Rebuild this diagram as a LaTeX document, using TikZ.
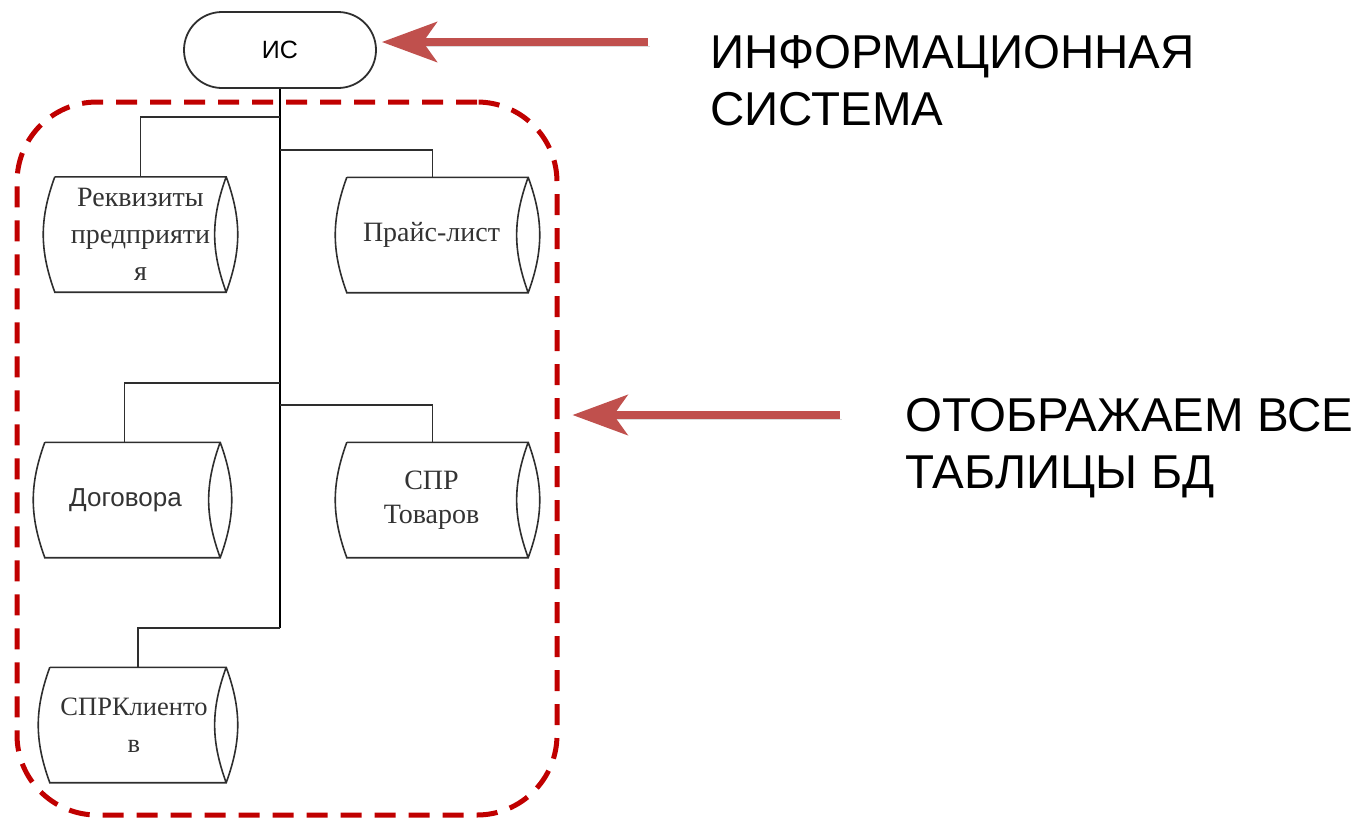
\documentclass[tikz,border=0pt]{standalone}
\usepackage{fontspec}
\setmainfont{Liberation Serif}
\newfontfamily\sansru{Liberation Sans}
\usepackage{tikz}
\usetikzlibrary{arrows.meta}

\definecolor{boxred}{HTML}{C00000}
\definecolor{calloutred}{HTML}{C0504D}
\definecolor{tableline}{HTML}{2E2E2E}

\tikzset{
  dbtable/.style={minimum height=115pt, inner sep=0pt, align=center,
    text=black!80, font=\fontsize{28}{37}\selectfont},
  dboutline/.style={draw=tableline, line width=1.6pt},
  sysnode/.style={draw=tableline, line width=1.8pt, rounded corners=38pt,
    minimum width=192pt, minimum height=76pt, font=\sansru\fontsize{25}{30}\selectfont},
  trunk/.style={draw=black, line width=2.6pt},
  branch/.style={draw=tableline, line width=1.8pt},
  groupbox/.style={draw=boxred, line width=5pt, dash pattern=on 21pt off 13pt,
    rounded corners=80pt, minimum width=540pt, minimum height=713pt},
  callout/.style={draw=calloutred, line width=8pt,
    -{Stealth[length=55pt, width=40pt, inset=14pt]},
    preaction={draw=black!40, opacity=0.35, transform canvas={shift={(2pt,-4pt)}}}},
  note/.style={inner sep=0pt, align=left, font=\sansru\fontsize{47.5}{57}\selectfont}
}

\begin{document}
\begin{tikzpicture}[x=1pt, y=-1pt]
  \useasboundingbox (0,0) rectangle (1358,823);

  \node[groupbox] (alltables) at (287,458.5) {};
  \node[sysnode] (is) at (280,50) {ИС};

  \node[dbtable, minimum width=171pt] (rekv) at (140.5,234.5)
      {Реквизиты\\предприяти\\я};
  \node[dbtable, minimum width=181pt] (price) at (437.5,235)
      {Прайс-лист\hspace*{12pt}};
  \node[dbtable, minimum width=175pt, font=\sansru\fontsize{26}{30}\selectfont] (dog) at (132.5,500)
      {Договора\hspace*{14pt}};
  \node[dbtable, minimum width=181pt, font=\fontsize{28}{34}\selectfont] (tov) at (437.5,500)
      {СПР\hspace*{12pt}\\Товаров\hspace*{12pt}};
  \node[dbtable, minimum width=176pt, font=\fontsize{26.5}{37}\selectfont] (kli) at (138,725)
      {СПРКлиенто\hspace*{8pt}\\в\hspace*{8pt}};

  % the storage outline round every table
  \foreach \t in {rekv,price,dog,tov,kli}
    \draw[dboutline] (\t.north west) -- (\t.north east)
        to[bend left=20] (\t.south east) -- (\t.south west)
        to[bend left=20] (\t.north west)
      (\t.north east) to[bend right=20] (\t.south east);

  \coordinate (j1) at (280,117);
  \coordinate (j2) at (280,150);
  \coordinate (j3) at (280,383);
  \coordinate (j4) at (280,405);
  \coordinate (j5) at (280,628);

  \draw[trunk] (is.south) -- (j5);
  \draw[branch] (j1) -| (rekv.north);
  \draw[branch] (j2) -| ([xshift=-5pt]price.north);
  \draw[branch] (j3) -| ([xshift=-8pt]dog.north);
  \draw[branch] (j4) -| ([xshift=-5pt]tov.north);
  \draw[branch] (j5) -| (kli.north);

  \node[note, anchor=base west] (noteis) at (710,125)
      {ИНФОРМАЦИОННАЯ\\СИСТЕМА};
  \node[note, anchor=base west] (notetables) at (905,488)
      {ОТОБРАЖАЕМ ВСЕ\\ТАБЛИЦЫ БД};

  \coordinate (tailis) at (648,42);
  \coordinate (tailtables) at (840,415);
  \draw[callout, shorten >=5pt] (tailis) -- (is.east |- tailis);
  \draw[callout, shorten >=13pt] (tailtables) -- (alltables.east |- tailtables);
\end{tikzpicture}
\end{document}
